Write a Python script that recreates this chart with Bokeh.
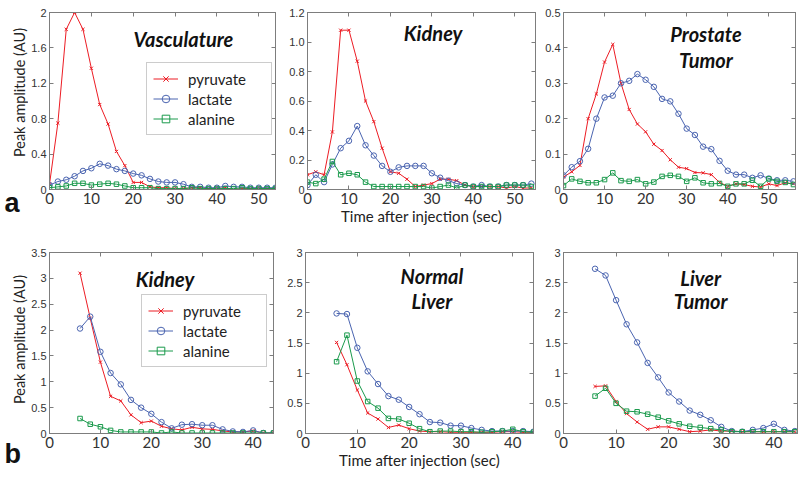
import math
from bokeh.plotting import figure
from bokeh.models import Label, LinearAxis, FixedTicker, Range1d, Legend, LegendItem
from bokeh.layouts import row, column
from bokeh.embed import file_html
from bokeh.resources import INLINE

# ---------------- data ----------------
series_names = ["pyruvate", "lactate", "alanine"]

time_a = [0, 2, 4, 6, 8, 10, 12, 14, 16, 18, 20, 22, 24, 26, 28, 30, 32, 34, 36, 38,
          40, 42, 44, 46, 48, 50, 52, 54]
time_a3 = [0, 2, 4, 6, 8, 10, 12, 14, 16, 18, 20, 22, 24, 26, 28, 30, 32, 34, 36, 38,
           40, 42, 44, 46, 48, 50, 52, 54, 56]
time_b = [6, 8, 10, 12, 14, 16, 18, 20, 22, 24, 26, 28, 30, 32, 34, 36, 38, 40, 42, 44]

vasc_pyruvate = [0.06, 0.75, 1.81, 2.0, 1.81, 1.37, 0.96, 0.74, 0.43, 0.27, 0.08, 0.08, 0.03, 0.02,
                 0.02, 0.01, 0.01, 0.02, 0.02, 0.01, 0.01, 0.02, 0.0, 0.01, 0.01, 0.01, 0.01, 0.01]
vasc_lactate = [0.05, 0.09, 0.11, 0.15, 0.21, 0.24, 0.29, 0.27, 0.23, 0.21, 0.18, 0.16, 0.12, 0.09,
                0.08, 0.08, 0.06, 0.03, 0.03, 0.02, 0.02, 0.04, 0.03, 0.03, 0.02, 0.02, 0.02, 0.02]
vasc_alanine = [0.02, 0.03, 0.04, 0.07, 0.07, 0.05, 0.06, 0.07, 0.06, 0.04, 0.02, 0.02, 0.02, 0.01,
                0.01, 0.01, 0.01, 0.02, 0.01, 0.01, 0.01, 0.01, 0.01, 0.02, 0.01, 0.01, 0.01, 0.01]

kidA_pyruvate = [0.10, 0.12, 0.10, 0.39, 1.08, 1.08, 0.87, 0.60, 0.46, 0.28, 0.12, 0.11, 0.07, 0.02,
                 0.03, 0.04, 0.07, 0.07, 0.06, 0.03, 0.02, 0.02, 0.02, 0.02, 0.01, 0.02, 0.01, 0.01]
kidA_lactate = [0.03, 0.10, 0.05, 0.17, 0.28, 0.33, 0.43, 0.30, 0.23, 0.16, 0.12, 0.15, 0.16, 0.16,
                0.16, 0.11, 0.08, 0.06, 0.04, 0.03, 0.02, 0.03, 0.02, 0.02, 0.03, 0.03, 0.03, 0.04]
kidA_alanine = [0.05, 0.04, 0.07, 0.19, 0.10, 0.11, 0.10, 0.05, 0.02, 0.02, 0.02, 0.02, 0.02, 0.02,
                0.02, 0.01, 0.02, 0.03, 0.01, 0.03, 0.02, 0.02, 0.02, 0.02, 0.03, 0.03, 0.03, 0.02]

pros_pyruvate = [0.035, 0.05, 0.068, 0.20, 0.27, 0.36, 0.41, 0.30, 0.226, 0.185, 0.163, 0.128, 0.11,
                 0.084, 0.063, 0.059, 0.048, 0.047, 0.042, 0.02, 0.009, 0.016, 0.014, 0.009, 0.007,
                 0.016, 0.011, 0.019, 0.016]
pros_lactate = [0.04, 0.063, 0.08, 0.115, 0.20, 0.26, 0.265, 0.30, 0.307, 0.326, 0.31, 0.29, 0.256,
                0.249, 0.214, 0.172, 0.154, 0.121, 0.114, 0.081, 0.053, 0.042, 0.042, 0.033, 0.04,
                0.031, 0.026, 0.026, 0.023]
pros_alanine = [0.011, 0.03, 0.023, 0.019, 0.019, 0.028, 0.047, 0.025, 0.023, 0.028, 0.016, 0.021,
                0.037, 0.04, 0.037, 0.023, 0.033, 0.019, 0.016, 0.017, 0.009, 0.016, 0.016, 0.026,
                0.009, 0.03, 0.023, 0.02, 0.014]

kidB_pyruvate = [3.10, 2.23, 1.38, 0.72, 0.63, 0.36, 0.21, 0.24, 0.14, 0.09, 0.07, 0.12, 0.09, 0.08,
                 0.05, 0.03, 0.03, 0.05, 0.01, 0.01]
kidB_lactate = [2.03, 2.26, 1.58, 1.17, 0.95, 0.65, 0.50, 0.38, 0.22, 0.10, 0.17, 0.18, 0.16, 0.16,
                0.08, 0.04, 0.03, 0.06, 0.01, 0.01]
kidB_alanine = [0.29, 0.18, 0.13, 0.06, 0.03, 0.03, 0.03, 0.03, 0.01, 0.03, 0.01, 0.01, 0.01, 0.01,
                0.01, 0.01, 0.01, 0.01, 0.01, 0.01]

nliv_pyruvate = [1.51, 1.14, 0.72, 0.34, 0.24, 0.10, 0.14, 0.08, 0.04, 0.03, 0.03, 0.02, 0.02, 0.02,
                 0.02, 0.02, 0.03, 0.03, 0.02, 0.02]
nliv_lactate = [1.99, 1.98, 1.42, 1.03, 0.82, 0.62, 0.56, 0.44, 0.32, 0.19, 0.18, 0.13, 0.13, 0.09,
                0.06, 0.04, 0.04, 0.04, 0.04, 0.03]
nliv_alanine = [1.19, 1.63, 0.87, 0.53, 0.42, 0.25, 0.24, 0.17, 0.08, 0.03, 0.04, 0.04, 0.03, 0.03,
                0.02, 0.03, 0.04, 0.07, 0.03, 0.02]

ltum_pyruvate = [0.78, 0.79, 0.53, 0.33, 0.19, 0.07, 0.11, 0.11, 0.07, 0.03, 0.04, 0.06, 0.04, 0.04,
                 0.03, 0.03, 0.03, 0.03, 0.03, 0.03]
ltum_lactate = [2.73, 2.62, 2.21, 1.81, 1.51, 1.17, 0.93, 0.68, 0.53, 0.38, 0.31, 0.22, 0.11, 0.04,
                0.03, 0.06, 0.09, 0.16, 0.06, 0.04]
ltum_alanine = [0.62, 0.75, 0.50, 0.37, 0.36, 0.32, 0.27, 0.21, 0.16, 0.12, 0.10, 0.08, 0.06, 0.03,
                0.03, 0.03, 0.03, 0.03, 0.03, 0.03]

xticks_a = [0, 10, 20, 30, 40, 50]
xticks_b = [0, 10, 20, 30, 40]
yticks_vasc = [0, 0.4, 0.8, 1.2, 1.6, 2]
ylabels_vasc = ["0", "0.4", "0.8", "1.2", "1.6", "2"]
yticks_kidA = [0, 0.2, 0.4, 0.6, 0.8, 1.0, 1.2]
ylabels_kidA = ["0", "0.2", "0.4", "0.6", "0.8", "1.0", "1.2"]
yticks_pros = [0, 0.1, 0.2, 0.3, 0.4, 0.5]
ylabels_pros = ["0", "0.1", "0.2", "0.3", "0.4", "0.5"]
yticks_kidB = [0, 0.5, 1, 1.5, 2, 2.5, 3, 3.5]
ylabels_kidB = ["0", "0.5", "1", "1.5", "2", "2.5", "3", "3.5"]
yticks_liv = [0, 0.5, 1, 1.5, 2, 2.5, 3]
ylabels_liv = ["0", "0.5", "1", "1.5", "2", "2.5", "3"]

# ---------------- style ----------------
COLORS = {"pyruvate": "#ec1c24", "lactate": "#4a64b0", "alanine": "#1a9a4c"}
MARKERS = {"pyruvate": "x", "lactate": "circle", "alanine": "square"}
MSIZE = {"pyruvate": 4.5, "lactate": 5.5, "alanine": 4.5}
GRAY = "#7d7d7d"
TXT = "#333333"
SANS = "Lato"


def style_axis(ax, ticks, labels, size, font, show_labels=True):
    ax.ticker = FixedTicker(ticks=ticks, minor_ticks=[])
    ax.axis_line_color = GRAY
    ax.major_tick_line_color = GRAY
    ax.minor_tick_line_color = None
    ax.major_tick_in = 4
    ax.major_tick_out = 0
    if show_labels:
        ax.major_label_overrides = {t: l for t, l in zip(ticks, labels)}
        ax.major_label_text_color = TXT
        ax.major_label_text_font = font
        ax.major_label_text_font_size = size
        ax.major_label_standoff = 3
    else:
        ax.major_label_text_color = None
        ax.major_label_text_font_size = "0px"
        ax.major_label_standoff = 0


def panel(w, h, bl, br, bt, bb, xr, yr, xticks, yticks, ylabels, t, ys, xlabel=None):
    p = figure(width=w, height=h, output_backend="svg", toolbar_location=None,
               x_range=Range1d(*xr), y_range=Range1d(*yr),
               min_border_left=bl, min_border_right=br, min_border_top=bt, min_border_bottom=bb,
               background_fill_color="white", border_fill_color="white")
    p.grid.visible = False
    p.outline_line_color = GRAY
    xbottom = p.xaxis[0]
    yleft = p.yaxis[0]
    xlabels = [str(v) for v in xticks]
    style_axis(xbottom, xticks, xlabels, "15px", SANS)
    style_axis(yleft, yticks, ylabels, "11px", "Liberation Sans")
    top = LinearAxis()
    style_axis(top, xticks, xlabels, "0px", SANS, show_labels=False)
    right = LinearAxis()
    style_axis(right, yticks, ylabels, "0px", SANS, show_labels=False)
    p.add_layout(top, "above")
    p.add_layout(right, "right")
    if xlabel:
        xbottom.axis_label = xlabel
        xbottom.axis_label_text_font = SANS
        xbottom.axis_label_text_font_size = "15px"
        xbottom.axis_label_text_font_style = "normal"
        xbottom.axis_label_text_color = "#222222"
        xbottom.axis_label_standoff = 0
    rends = {}
    for name, yv in zip(series_names, ys):
        c = COLORS[name]
        lr = p.line(t, yv, line_color=c, line_width=1)
        mr = p.scatter(t, yv, marker=MARKERS[name], size=MSIZE[name], line_color=c,
                       fill_color=None, line_width=1)
        rends[name] = [lr, mr]
    return p, rends


def add_title(p, lines, x, ys):
    for txt, y in zip(lines, ys):
        p.add_layout(Label(x=x, y=y, text=txt, text_font=SANS, text_font_size="20px",
                           text_font_style="bold italic", text_color="#111111",
                           text_align="center", text_baseline="alphabetic"))


def add_legend(p, rends, loc):
    items = [LegendItem(label=n, renderers=rends[n]) for n in series_names]
    lg = Legend(items=items, location=loc, label_text_font=SANS, label_text_font_size="15px",
                label_text_color="#222222", glyph_width=25, glyph_height=19, label_height=19,
                label_width=77, label_standoff=10, spacing=1, padding=6, margin=0,
                border_line_color="#999999", border_line_width=1, background_fill_alpha=1)
    p.add_layout(lg)


# ---------------- row a ----------------
HA = 233
f1, r1 = panel(254, HA, 19, 7, 12, 44, (0, 54), (0, 2), xticks_a, yticks_vasc, ylabels_vasc,
               time_a, [vasc_pyruvate, vasc_lactate, vasc_alanine])
add_title(f1, ["Vasculature"], 32, [1.70])
add_legend(f1, r1, (97, 54))

f2, _ = panel(260, HA, 25, 7, 12, 44, (0, 55), (0, 1.2), xticks_a, yticks_kidA, ylabels_kidA,
              time_a, [kidA_pyruvate, kidA_lactate, kidA_alanine], xlabel="Time after injection (sec)")
add_title(f2, ["Kidney"], 30.3, [1.064])

f3, _ = panel(258, HA, 20, 5, 12, 44, (0, 56.5), (0, 0.5), xticks_a, yticks_pros, ylabels_pros,
              time_a3, [pros_pyruvate, pros_lactate, pros_alanine])
add_title(f3, ["Prostate", "Tumor"], 34.7, [0.440, 0.366])

# ---------------- row b ----------------
HB = 244
f4, r4 = panel(254, HB, 18, 9, 19, 44, (0, 44), (0, 3.5), xticks_b, yticks_kidB, ylabels_kidB,
               time_b, [kidB_pyruvate, kidB_lactate, kidB_alanine])
add_title(f4, ["Kidney"], 22.7, [2.98])
add_legend(f4, r4, (92, 66))

f5, _ = panel(260, HB, 23, 9, 19, 44, (0, 44), (0, 3), xticks_b, yticks_liv, ylabels_liv,
              time_b, [nliv_pyruvate, nliv_lactate, nliv_alanine], xlabel="Time after injection (sec)")
add_title(f5, ["Normal", "Liver"], 24.4, [2.617, 2.2])

f6, _ = panel(258, HB, 21, 3, 19, 44, (0, 44.5), (0, 3), xticks_b, yticks_liv, ylabels_liv,
              time_b, [ltum_pyruvate, ltum_lactate, ltum_alanine])
add_title(f6, ["Liver", "Tumor"], 26.1, [2.583, 2.2])

# ---------------- left strip: row y-labels and panel letters ----------------
HL = HA + HB
WL = 28
fl = figure(width=WL, height=HL, output_backend="svg", toolbar_location=None,
            x_range=Range1d(0, WL), y_range=Range1d(0, HL),
            x_axis_location=None, y_axis_location=None,
            min_border_left=0, min_border_right=0, min_border_top=0, min_border_bottom=0,
            background_fill_color="white", border_fill_color="white")
fl.grid.visible = False
fl.outline_line_color = None
for yc in (HL - 92, HL - 339):
    fl.add_layout(Label(x=19, y=yc, text="Peak amplitude (AU)", angle=math.pi / 2,
                        text_font=SANS, text_font_size="14.5px", text_color="#222222",
                        text_align="center", text_baseline="middle"))
for letter, yb in (("a", HL - 202), ("b", HL - 453)):
    fl.add_layout(Label(x=4, y=yb, text=letter, text_font="Liberation Sans",
                        text_font_size="27px", text_font_style="bold", text_color="#111111",
                        text_align="left", text_baseline="alphabetic"))

layout = row(fl, column(row(f1, f2, f3), row(f4, f5, f6)))
open("out.html", "w").write(file_html(layout, INLINE))
